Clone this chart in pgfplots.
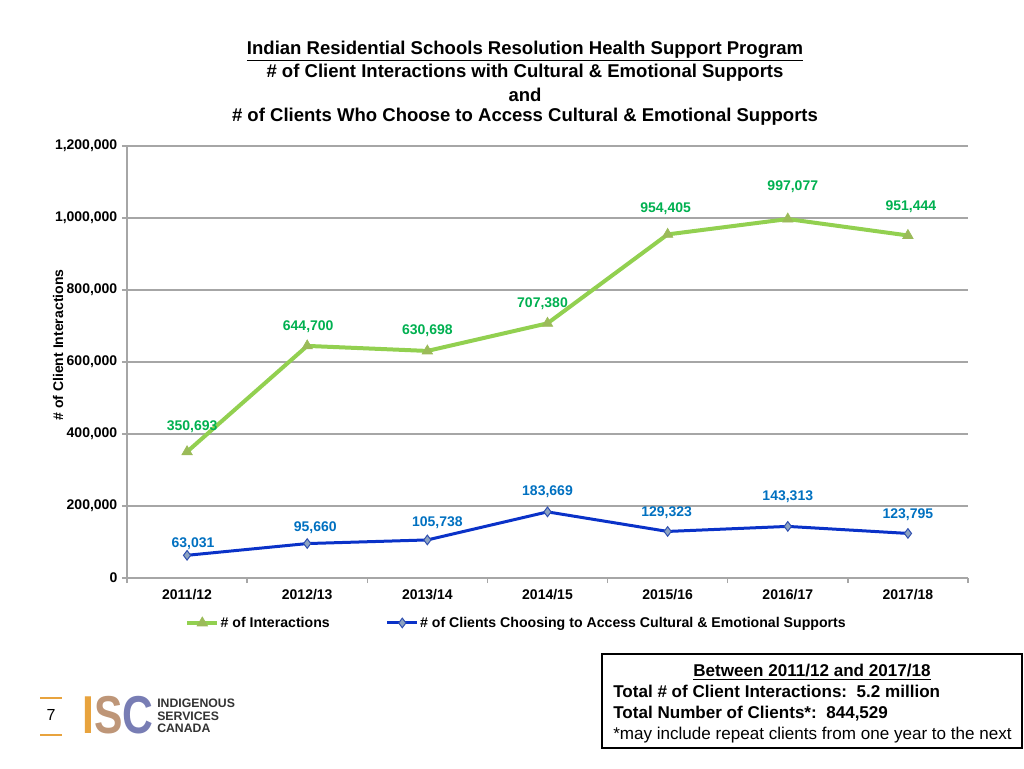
\documentclass[border=0pt]{standalone}
\usepackage{pgfplots}
\pgfplotsset{compat=1.18}
\usepackage{pgfplotstable}
\usepackage{fontspec}
\setmainfont{Liberation Sans}
\definecolor{lgreen}{RGB}{146,208,80}
\definecolor{mgreen}{RGB}{155,187,89}
\definecolor{tgreen}{RGB}{0,176,80}
\definecolor{lblue}{RGB}{10,50,200}
\definecolor{dfill}{RGB}{141,163,193}
\definecolor{ddraw}{RGB}{48,80,176}
\definecolor{tblue}{RGB}{0,112,192}
\definecolor{gridgray}{RGB}{166,166,166}
\definecolor{iscorange}{RGB}{232,163,61}
\definecolor{iscmid}{RGB}{190,150,120}
\definecolor{iscblue}{RGB}{120,125,180}

\pgfplotstableread{
x y lab dx dy
0 350693 350,693 5 25
1 644700 644,700 1 19
2 630698 630,698 0 20
3 707380 707,380 -5 20
4 954405 954,405 -2 26
5 997077 997,077 5 32
6 951444 951,444 3 29
}\interactions

\pgfplotstableread{
x y lab dx dy
0 63031 63,031 6 12
1 95660 95,660 8 16
2 105738 105,738 10 17
3 183669 183,669 0 20
4 129323 129,323 -1 19
5 143313 143,313 0 30
6 123795 123,795 0 19
}\clients

\begin{document}
\begin{tikzpicture}[x=0.75pt,y=0.75pt]
\path[use as bounding box] (0,0) rectangle (1024,768);
\begin{axis}[
  at={(95.25pt,142.5pt)}, anchor=south west,
  scale only axis, width=630.75pt, height=324pt,
  xmin=-0.5, xmax=6.5, ymin=0, ymax=1200000,
  axis x line*=bottom, axis y line*=left,
  axis line style={gridgray, line width=1pt},
  xtick={-0.5,0.5,1.5,2.5,3.5,4.5,5.5,6.5},
  xticklabels={},
  extra x ticks={0,1,2,3,4,5,6},
  extra x tick labels={2011/12,2012/13,2013/14,2014/15,2015/16,2016/17,2017/18},
  extra x tick style={major tick length=0pt, grid=none, tick label style={yshift=-5pt}},
  ytick={0,200000,...,1200000},
  scaled y ticks=false,
  yticklabel style={/pgf/number format/.cd, fixed, 1000 sep={,}, assume math mode=true},
  ymajorgrids, major grid style={gridgray, line width=1pt},
  tick align=outside, major tick length=3.75pt,
  tick style={gridgray, line width=1pt},
  ticklabel style={font=\bfseries\fontsize{10.5}{12}\selectfont},
  clip=false,
  legend columns=2,
  legend style={draw=none, fill=none, at={(0.069,-0.104)}, anchor=west,
    font=\bfseries\fontsize{10.6}{12}\selectfont, inner sep=0pt,
    /tikz/every even column/.append style={column sep=41pt},
    nodes={inner sep=1pt}},
  legend image code/.code={\draw[mark repeat=2,mark phase=2] plot coordinates {(0pt,0pt) (11.25pt,0pt) (22.5pt,0pt)};},
]
\addlegendimage{lgreen, line width=3pt, mark=triangle*, mark size=4.5pt,
  mark options={fill=mgreen, draw=mgreen, line width=0.5pt}}
\addlegendentry{\# of Interactions}
\addlegendimage{lblue, line width=2.25pt, mark=diamond*, mark size=3.6pt,
  mark options={fill=dfill, draw=ddraw, line width=0.75pt}}
\addlegendentry{\# of Clients Choosing to Access Cultural \& Emotional Supports}
\addplot[forget plot, lgreen, line width=3pt, mark=triangle*, mark size=4.5pt,
  mark options={fill=mgreen, draw=mgreen, line width=0.5pt},
  nodes near coords, point meta=explicit symbolic,
  visualization depends on={\thisrow{dx}\as\dx},
  visualization depends on={\thisrow{dy}\as\dy},
  every node near coord/.append style={anchor=center, xshift={\dx*0.75pt}, yshift={\dy*0.75pt},
    text=tgreen, font=\bfseries\fontsize{10.5}{12}\selectfont, inner sep=0pt}]
  table[x=x, y=y, meta=lab]{\interactions};
\addplot[forget plot, lblue, line width=2.25pt, mark=diamond*, mark size=3.6pt,
  mark options={fill=dfill, draw=ddraw, line width=0.75pt},
  nodes near coords, point meta=explicit symbolic,
  visualization depends on={\thisrow{dx}\as\dx},
  visualization depends on={\thisrow{dy}\as\dy},
  every node near coord/.append style={anchor=center, xshift={\dx*0.75pt}, yshift={\dy*0.75pt},
    text=tblue, font=\bfseries\fontsize{10.5}{12}\selectfont, inner sep=0pt}]
  table[x=x, y=y, meta=lab]{\clients};
\end{axis}

% y label
\node[rotate=90, font=\bfseries\fontsize{10.5}{12}\selectfont] at (58,423) {\# of Client Interactions};

% title
\begin{scope}[every node/.style={font=\bfseries\fontsize{13.9}{16}\selectfont, inner sep=0pt}]
\node at (525,717) {\underline{Indian Residential Schools Resolution Health Support Program}};
\node at (525,695) {\# of Client Interactions with Cultural \& Emotional Supports};
\node at (525,673) {and};
\node at (525,651) {\# of Clients Who Choose to Access Cultural \& Emotional Supports};
\end{scope}

% box
\draw[line width=1.3pt] (602,20) rectangle (1022,114);
\node[font=\bfseries\fontsize{12.8}{14}\selectfont, inner sep=0pt] at (812,96) {\underline{Between 2011/12 and 2017/18}};
\node[font=\bfseries\fontsize{12.8}{14}\selectfont, inner sep=0pt, anchor=west] at (613,77) {Total \# of Client Interactions:\ \ 5.2 million};
\node[font=\bfseries\fontsize{12.8}{14}\selectfont, inner sep=0pt, anchor=west] at (613,54) {Total Number of Clients*:\ \ 844,529};
\node[font=\fontsize{12.8}{14}\selectfont, inner sep=0pt, anchor=west] at (613,33) {*may include repeat clients from one year to the next};

% logo
\draw[iscorange, line width=1.5pt] (40,70) -- (62,70);
\draw[iscorange, line width=1.5pt] (40,33) -- (62,33);
\node[font=\fontsize{12}{14}\selectfont] at (51,53) {7};
\node[font=\bfseries\fontsize{40}{40}\selectfont, inner sep=0pt] at (118,53)
  {\scalebox{0.8}[1]{\textcolor{iscorange}{I}\textcolor{iscmid}{S}\textcolor{iscblue}{C}}};
\node[font=\bfseries\fontsize{9.2}{10}\selectfont, text=black!80, anchor=west, inner sep=0pt, align=left] at (157,52)
  {INDIGENOUS\\[-0.6pt]SERVICES\\[-0.6pt]CANADA};
\end{tikzpicture}
\end{document}
